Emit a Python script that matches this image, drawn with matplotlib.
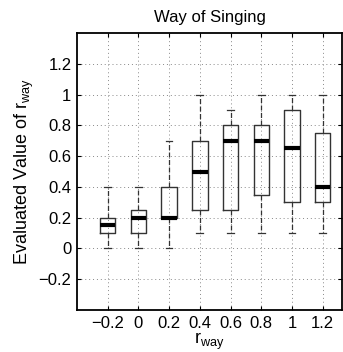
import matplotlib
matplotlib.use("Agg")
import matplotlib.pyplot as plt

plt.rcParams["font.family"] = ["Liberation Sans", "DejaVu Sans"]
plt.rcParams["mathtext.fontset"] = "custom"
plt.rcParams["mathtext.rm"] = "Liberation Sans"

# ── Data ──────────────────────────────────────────────────────────────
labels  = ["\u22120.2", "0", "0.2", "0.4", "0.6", "0.8", "1", "1.2"]
whislo  = [0.0, 0.0, 0.0, 0.1, 0.1, 0.1, 0.1, 0.1]
q1      = [0.10, 0.10, 0.20, 0.25, 0.25, 0.35, 0.30, 0.30]
med     = [0.15, 0.20, 0.20, 0.50, 0.70, 0.70, 0.65, 0.40]
q3      = [0.20, 0.25, 0.40, 0.70, 0.80, 0.80, 0.90, 0.75]
whishi  = [0.4, 0.4, 0.7, 1.0, 0.9, 1.0, 1.0, 1.0]

yticks = [-0.2, 0, 0.2, 0.4, 0.6, 0.8, 1, 1.2]
ytick_labels = ["\u22120.2", "0", "0.2", "0.4", "0.6", "0.8", "1", "1.2"]

stats = [dict(label=l, whislo=a, q1=b, med=c, q3=d, whishi=e, fliers=[])
         for l, a, b, c, d, e in zip(labels, whislo, q1, med, q3, whishi)]

# ── Figure ────────────────────────────────────────────────────────────
fig = plt.figure(figsize=(3.43, 3.52), dpi=100)
ax = fig.add_axes([77 / 343, 1 - 310 / 352, (342 - 77) / 343, (310 - 33) / 352])

ax.bxp(stats, positions=range(1, 9), widths=0.5, showfliers=False,
       boxprops=dict(color="#333333", linewidth=1.0),
       medianprops=dict(color="black", linewidth=3.0, solid_capstyle="butt"),
       whiskerprops=dict(color="#333333", linewidth=0.9, linestyle=(0, (4, 2))),
       capprops=dict(color="#333333", linewidth=0.9), capwidths=0.22)

ax.set_xlim(0, 8.63)
ax.set_ylim(-0.4, 1.4)
ax.set_yticks(yticks)
ax.set_yticklabels(ytick_labels)
ax.set_xticks(range(1, 9))
ax.set_xticklabels(labels)
ax.tick_params(direction="in", length=3, labelsize=12, top=True, right=True, pad=4)
ax.grid(True, linestyle=(0, (1, 3)), color="#888888", linewidth=0.7)
for s in ax.spines.values():
    s.set_linewidth(1.3)

ax.set_title("Way of Singing", fontsize=12, pad=8)
ax.set_xlabel(r"$\mathregular{r_{way}}$", fontsize=13, labelpad=0)
ax.set_ylabel(r"Evaluated Value of $\mathregular{r_{way}}$", fontsize=13, labelpad=2)

fig.savefig("out.png", dpi=100)
